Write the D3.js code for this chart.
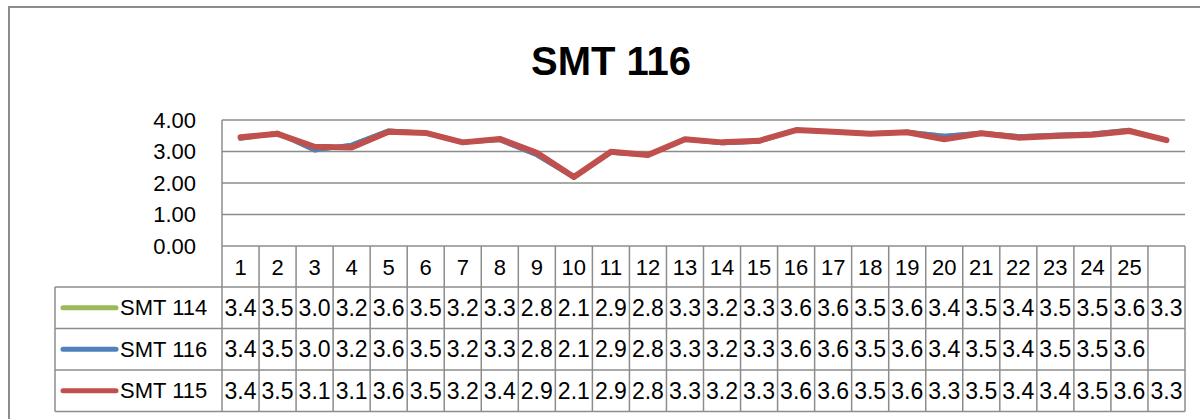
<!DOCTYPE html>
<html>
<head>
<meta charset="utf-8">
<script src="https://d3js.org/d3.v7.min.js"></script>
<style>
  body { margin: 0; background: #fff; }
  svg { display: block; font-family: "Liberation Sans", Arial, sans-serif; }
</style>
</head>
<body>
<svg id="chart" width="1200" height="419"></svg>
<script>
// categories along x (last one has no label)
const categories = ["1","2","3","4","5","6","7","8","9","10","11","12","13","14","15","16","17","18","19","20","21","22","23","24","25",""];

const seriesNames = ["SMT 114", "SMT 116", "SMT 115"];
const seriesColors = ["#9BBB59", "#4F81BD", "#C0504D"];

const smt114 = [3.41,3.59,3.04,3.21,3.66,3.59,3.29,3.37,2.89,2.18,2.97,2.89,3.39,3.27,3.32,3.68,3.63,3.57,3.62,3.49,3.59,3.48,3.52,3.56,3.68,3.35];
const smt116 = [3.41,3.59,3.04,3.21,3.66,3.59,3.29,3.37,2.89,2.18,2.97,2.89,3.39,3.27,3.32,3.68,3.63,3.57,3.62,3.49,3.59,3.48,3.52,3.56,3.68];
const smt115 = [3.45,3.56,3.15,3.13,3.63,3.59,3.29,3.40,2.96,2.19,2.99,2.89,3.39,3.29,3.34,3.68,3.63,3.56,3.61,3.39,3.58,3.44,3.49,3.53,3.65,3.36];

const yTicks = [0, 1, 2, 3, 4];

const allSeries = [smt114, smt116, smt115];

const svg = d3.select("#chart");
const plotL = 222, plotR = 1185, plotT = 120, plotB = 246;
const rowH = 41.5, headH = 41, legendLeft = 55;
const grid = "#8c8c8c";

// outer chart frame
svg.append("rect").attr("x", 9).attr("y", 7).attr("width", 1300).attr("height", 500)
   .attr("fill", "none").attr("stroke", grid).attr("stroke-width", 2);

svg.append("text").attr("x", 611).attr("y", 75).attr("text-anchor", "middle")
   .attr("font-size", 40).attr("font-weight", "bold").text("SMT 116");

const x = d3.scaleBand().domain(d3.range(categories.length)).range([plotL, plotR]);
const y = d3.scaleLinear().domain([0, 4]).range([plotB, plotT]);

// gridlines + y labels
svg.append("g").selectAll("line").data(yTicks).join("line")
   .attr("x1", plotL).attr("x2", plotR)
   .attr("y1", d => y(d)).attr("y2", d => y(d))
   .attr("stroke", grid).attr("stroke-width", 1.5);

svg.append("g").selectAll("text").data(yTicks).join("text")
   .attr("x", 196).attr("y", d => y(d)).attr("dy", "0.35em")
   .attr("text-anchor", "end").attr("font-size", 22)
   .text(d => d3.format(".2f")(d));

// lines
const line = d3.line().x((d, i) => x(i) + x.bandwidth() / 2).y(d => y(d));
svg.append("g").selectAll("path").data(allSeries).join("path")
   .attr("d", d => line(d))
   .attr("fill", "none")
   .attr("stroke", (d, i) => seriesColors[i])
   .attr("stroke-width", (d, i) => i === 2 ? 6 : 4.5)
   .attr("stroke-linejoin", "round").attr("stroke-linecap", "round");

// data table
const tbl = svg.append("g").attr("stroke", grid).attr("stroke-width", 1.5);
const tblBottom = plotB + headH + rowH * 3;
// left border of plot (axis) through table
tbl.append("line").attr("x1", plotL).attr("x2", plotL).attr("y1", plotT).attr("y2", tblBottom);
tbl.selectAll("line.v").data(d3.range(1, categories.length + 1)).join("line").attr("class", "v")
   .attr("x1", i => x(i - 1) + x.bandwidth()).attr("x2", i => x(i - 1) + x.bandwidth())
   .attr("y1", plotB).attr("y2", tblBottom);
tbl.append("line").attr("x1", legendLeft).attr("x2", legendLeft)
   .attr("y1", plotB + headH).attr("y2", tblBottom);
tbl.selectAll("line.h").data(d3.range(4)).join("line").attr("class", "h")
   .attr("x1", legendLeft).attr("x2", plotR)
   .attr("y1", r => plotB + headH + r * rowH).attr("y2", r => plotB + headH + r * rowH);

// category header
svg.append("g").selectAll("text").data(categories).join("text")
   .attr("x", (d, i) => x(i) + x.bandwidth() / 2).attr("y", plotB + headH / 2 + 1)
   .attr("dy", "0.35em").attr("text-anchor", "middle").attr("font-size", 22)
   .text(d => d);

// truncate to one decimal, as shown in the table
const fmt = v => (Math.floor(v * 10 + 1e-6) / 10).toFixed(1);

allSeries.forEach((s, r) => {
  const cy = plotB + headH + r * rowH + rowH / 2;
  const g = svg.append("g");
  g.append("line").attr("x1", 63).attr("x2", 116).attr("y1", cy).attr("y2", cy)
   .attr("stroke", seriesColors[r]).attr("stroke-width", 5).attr("stroke-linecap", "round");
  g.append("text").attr("x", 120).attr("y", cy).attr("dy", "0.35em")
   .attr("font-size", 22).text(seriesNames[r]);
  g.selectAll("text.v").data(s).join("text").attr("class", "v")
   .attr("x", (d, i) => x(i) + x.bandwidth() / 2).attr("y", cy)
   .attr("dy", "0.35em").attr("text-anchor", "middle").attr("font-size", 23)
   .text(d => fmt(d));
});
</script>
</body>
</html>
